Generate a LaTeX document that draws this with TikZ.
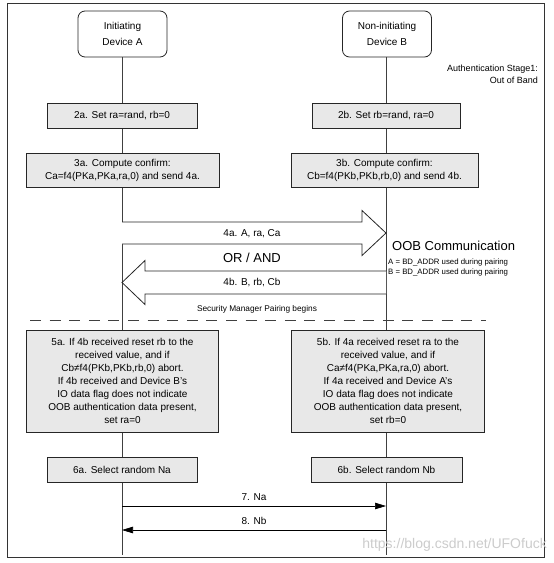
\documentclass[tikz,border=0pt]{standalone}
\usepackage{fontspec}
\setmainfont{Liberation Sans}
\usetikzlibrary{arrows.meta,calc}
\begin{document}
\begin{tikzpicture}[x=1pt,y=-1pt,
  box/.style={draw=black!85, line width=0.8pt, fill=black!9, align=center, font=\fontsize{10}{13}\selectfont, inner sep=1pt},
  devbox/.style={draw=black!85, line width=0.8pt, fill=white, rounded corners=7pt, align=center, font=\fontsize{10}{16}\selectfont, minimum width=89pt, minimum height=46pt},
  life/.style={draw=black!75, line width=0.8pt},
  hollow/.style={draw=black!85, line width=0.8pt, fill=white},
  msg/.style={draw=black, line width=0.7pt, -{Triangle[length=11pt,width=6.5pt]}},
  lbl/.style={font=\fontsize{10}{12}\selectfont, inner sep=1pt}
]
\useasboundingbox (0,0) rectangle (554,563);
\fill[white] (0,0) rectangle (554,563);
% outer frame
\draw[black!80, line width=0.8pt] (7,3) rectangle (544,557);

% devices
\node[devbox] (devA) at (122.5,34) {Initiating\\Device A};
\node[devbox] (devB) at (387,34) {Non-initiating\\Device B};
\coordinate (endA) at (122,555);
\coordinate (endB) at (386,555);
\draw[life] (devA.south -| endA) -- (endA);
\draw[life] (devB.south -| endB) -- (endB);

\node[font=\fontsize{9}{11.5}\selectfont, align=right, anchor=north east, inner sep=0pt] (stage) at (538,65) {Authentication Stage1:\\Out of Band};

% step 2
\node[box, minimum width=150pt, minimum height=25pt] (s2a) at (122,116) {2a. Set ra=rand, rb=0};
\node[box, minimum width=148pt, minimum height=25pt] (s2b) at (386,116) {2b. Set rb=rand, ra=0};

% step 3
\node[box, minimum width=193pt, minimum height=34pt] (s3a) at (122.5,170) {3a. Compute confirm:\\Ca=f4(PKa,PKa,ra,0) and send 4a.};
\node[box, minimum width=187pt, minimum height=34pt] (s3b) at (384.5,170) {3b. Compute confirm:\\Cb=f4(PKb,PKb,rb,0) and send 4b.};

% 4a hollow arrow
\coordinate (a4) at (122,233);
\coordinate (b4) at (386,233);
\draw[hollow] ($(a4)+(0,-11)$) -- ($(b4)+(-24,-11)$) -- ($(b4)+(-24,-22.5)$) -- (b4) -- ($(b4)+(-24,22.5)$) -- ($(b4)+(-24,11)$) -- ($(a4)+(0,11)$);
\node[lbl] (l4a) at (252,234) {4a. A, ra, Ca};

\node[font=\fontsize{13}{15}\selectfont, inner sep=1pt] (orand) at (252,258) {OR / AND};
\node[font=\fontsize{13}{15}\selectfont, anchor=west, inner sep=0pt] (oob) at (392,246) {OOB Communication};
\node[font=\fontsize{7.8}{10}\selectfont, anchor=north west, align=left, inner sep=0pt] (addr) at (388,258.5) {A = BD\_ADDR used during pairing\\B = BD\_ADDR used during pairing};

% 4b hollow arrow
\coordinate (a4b) at (122,282.5);
\coordinate (b4b) at (386,282.5);
\draw[hollow] ($(b4b)+(0,-11.5)$) -- ($(a4b)+(23,-11.5)$) -- ($(a4b)+(23,-22)$) -- (a4b) -- ($(a4b)+(23,22)$) -- ($(a4b)+(23,11.5)$) -- ($(b4b)+(0,11.5)$);
\node[lbl] (l4b) at (252,282.5) {4b. B, rb, Cb};

\node[font=\fontsize{8.3}{10}\selectfont, inner sep=1pt] (smp) at (257,309) {Security Manager Pairing begins};

% dashed separator
\coordinate (dL) at (30,320);
\coordinate (dR) at (486,320);
\draw[black!75, line width=0.9pt, dash pattern=on 11pt off 8.6pt] (dL) -- (dR);

% step 5
\node[box, minimum width=192pt, minimum height=102pt] (s5a) at (122.5,381) {5a. If 4b received reset rb to the\\received value, and if\\Cb≠f4(PKb,PKb,rb,0) abort.\\If 4b received and Device B's\\IO data flag does not indicate\\OOB authentication data present,\\set ra=0};
\node[box, minimum width=193pt, minimum height=102pt] (s5b) at (388,381) {5b. If 4a received reset ra to the\\received value, and if\\Ca≠f4(PKa,PKa,ra,0) abort.\\If 4a received and Device A's\\IO data flag does not indicate\\OOB authentication data present,\\set rb=0};

% step 6
\node[box, minimum width=150pt, minimum height=25pt] (s6a) at (122,469.5) {6a. Select random Na};
\node[box, minimum width=151pt, minimum height=25pt] (s6b) at (386.5,469.5) {6b. Select random Nb};

% messages 7 and 8
\coordinate (a7) at (122,506);
\coordinate (b7) at (386,506);
\coordinate (a8) at (122,530);
\coordinate (b8) at (386,530);
\draw[msg] (a7) -- (b7);
\draw[msg] (b8) -- (a8);
\node[lbl] (l7) at (254,497) {7. Na};
\node[lbl] (l8) at (254,521) {8. Nb};

% watermark
\node[font=\fontsize{14}{16}\selectfont, text=black!20, anchor=east, inner sep=0pt] (wm) at (547,545) {https://blog.csdn.net/UFOfuck};
\end{tikzpicture}
\end{document}
